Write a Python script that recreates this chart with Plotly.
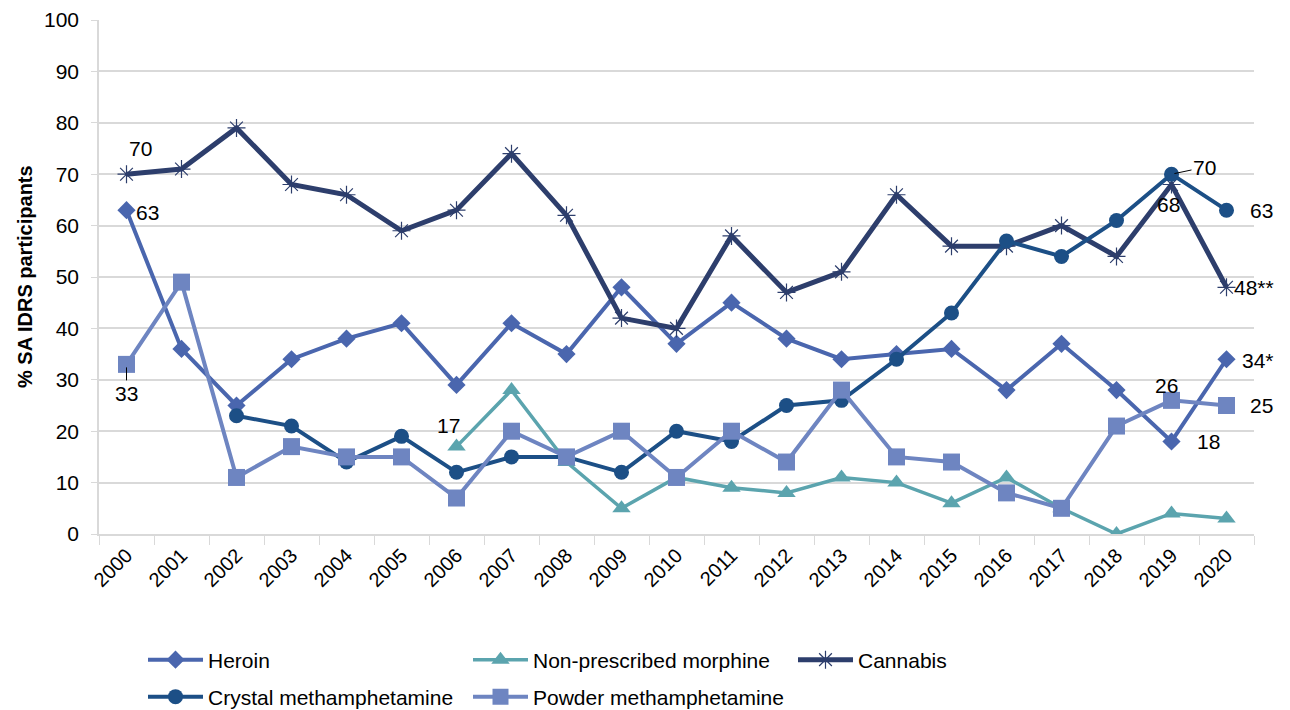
import plotly.graph_objects as go

years = [str(y) for y in range(2000, 2021)]

heroin = [63, 36, 25, 34, 38, 41, 29, 41, 35, 48, 37, 45, 38, 34, 35, 36, 28, 37, 28, 18, 34]
morphine = [None, None, None, None, None, None, 17, 28, 14, 5, 11, 9, 8, 11, 10, 6, 11, 5, 0, 4, 3]
cannabis = [70, 71, 79, 68, 66, 59, 63, 74, 62, 42, 40, 58, 47, 51, 66, 56, 56, 60, 54, 68, 48]
crystal = [None, None, 23, 21, 14, 19, 12, 15, 15, 12, 20, 18, 25, 26, 34, 43, 57, 54, 61, 70, 63]
powder = [33, 49, 11, 17, 15, 15, 7, 20, 15, 20, 11, 20, 14, 28, 15, 14, 8, 5, 21, 26, 25]

y_ticks = list(range(0, 101, 10))

C_HER = "#4A66AE"
C_MOR = "#5BA4AE"
C_CAN = "#2D3E6C"
C_CRY = "#1C4F86"
C_POW = "#6E85C1"

FONT = "Arial, Liberation Sans, sans-serif"
FS = 21

fig = go.Figure()

def add(name, vals, color, symbol, size, lw, legend, mline=0):
    fig.add_trace(go.Scatter(
        x=years, y=vals, name=name, mode="lines+markers",
        line=dict(color=color, width=lw),
        marker=dict(symbol=symbol, size=size, color=color,
                    line=dict(color=color, width=mline)),
        connectgaps=False, legend=legend,
    ))

add("Heroin", heroin, C_HER, "diamond", 14, 4, "legend")
add("Non-prescribed morphine", morphine, C_MOR, "triangle-up", 16, 3.5, "legend2")
add("Cannabis", cannabis, C_CAN, "asterisk-open", 15, 5, "legend3", 1.2)
add("Crystal methamphetamine", crystal, C_CRY, "circle", 15, 4, "legend4")
add("Powder methamphetamine", powder, C_POW, "square", 17, 4, "legend5")

# data labels: (series, year index, text, xshift, yshift)
labels = [
    (cannabis, 0, "70", 14, 26),
    (heroin, 0, "63", 21, -2),
    (morphine, 6, "17", -8, 21),
    (cannabis, 19, "68", -3, -20),
    (crystal, 20, "63", 35, 0),
    (cannabis, 20, "48**", 27, 0),
    (heroin, 20, "34*", 31, -1),
    (powder, 19, "26", -5, 15),
    (powder, 20, "25", 35, 0),
    (heroin, 19, "18", 37, 0),
]
for series, i, txt, xs, ys in labels:
    fig.add_annotation(x=i, y=series[i], xref="x", yref="y", text=txt, showarrow=False,
                       xshift=xs, yshift=ys, font=dict(size=FS, color="#000000", family=FONT))

# labels with leader lines
leaders = [
    (powder, 0, "33", 0, 29),
    (crystal, 19, "70", 33, -7),
]
for series, i, txt, ax, ay in leaders:
    fig.add_annotation(x=i, y=series[i], xref="x", yref="y", text=txt, showarrow=True,
                       arrowhead=0, arrowwidth=1, arrowcolor="#000000",
                       ax=ax, ay=ay, standoff=3,
                       font=dict(size=FS, color="#000000", family=FONT))

# y-axis title
fig.add_annotation(xref="paper", yref="paper", x=-(91 - 17) / 1155, y=0.5,
                   text="<b>% SA IDRS participants</b>", textangle=-90, showarrow=False,
                   xanchor="center", yanchor="middle",
                   font=dict(size=20, color="#000000", family=FONT))

W, H = 1282, 702

legend_common = dict(font=dict(size=FS, color="#000000", family=FONT), bgcolor="rgba(0,0,0,0)",
                     xref="container", yref="container",
                     xanchor="left", yanchor="middle", itemwidth=55)

def cx(px):
    return px / W

def cy(py):
    return (H - py) / H

fig.update_layout(
    width=W, height=H,
    margin=dict(l=91, r=36, t=12, b=176, autoexpand=False),
    paper_bgcolor="white", plot_bgcolor="white",
    font=dict(family=FONT, size=FS, color="#000000"),
    showlegend=True,
    legend=dict(x=cx(135), y=cy(652), **legend_common),
    legend2=dict(x=cx(460), y=cy(652), **legend_common),
    legend3=dict(x=cx(785), y=cy(652), **legend_common),
    legend4=dict(x=cx(135), y=cy(689), **legend_common),
    legend5=dict(x=cx(460), y=cy(689), **legend_common),
    xaxis=dict(type="category", categoryorder="array", categoryarray=years,
               tickangle=-45, tickfont=dict(size=20, color="#000000"),
               showline=True, linecolor="#D9D9D9", linewidth=1.5,
               ticks="outside", tickson="boundaries", ticklen=9, tickcolor="#D9D9D9",
               showgrid=False, zeroline=False, range=[-0.5, 20.5]),
    yaxis=dict(range=[0, 100], tickvals=y_ticks, tickfont=dict(size=FS, color="#000000"),
               showgrid=True, gridcolor="#D9D9D9", gridwidth=1.5,
               showline=True, linecolor="#D9D9D9", linewidth=1.5,
               ticks="outside", ticklen=6, tickcolor="#D9D9D9", ticklabelstandoff=8,
               zeroline=False),
)

fig.write_html("out.html")
